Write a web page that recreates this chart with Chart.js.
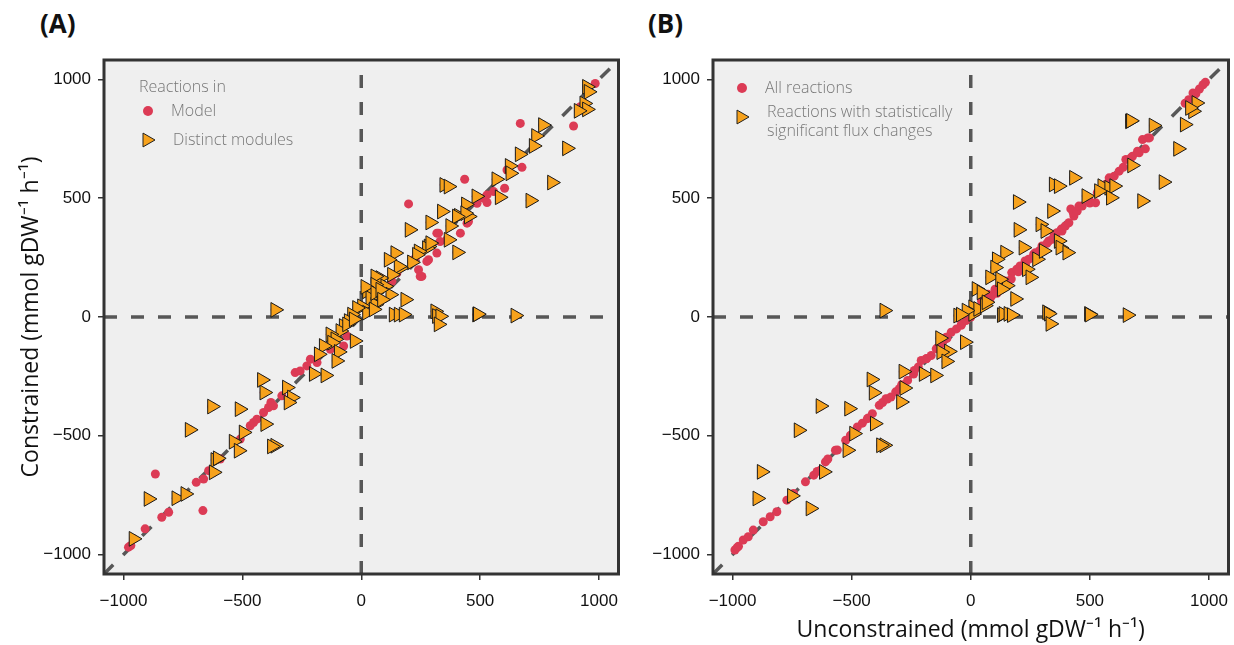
<!DOCTYPE html>
<html><head><meta charset="utf-8">
<script src="https://cdn.jsdelivr.net/npm/chart.js@4.4.1/dist/chart.umd.min.js"></script>
<style>
html,body{margin:0;padding:0;background:#fff;}
body{width:1234px;height:645px;overflow:hidden;position:relative;}
.panel{position:absolute;top:0;}
.lab{position:absolute;top:5px;font:700 26px 'Open Sans',sans-serif;color:#111;}
</style></head><body>
<div class="lab" style="left:40px">(A)</div>
<div class="lab" style="left:648px">(B)</div>
<canvas id="ca" class="panel" style="left:0" width="628" height="645"></canvas>
<canvas id="cb" class="panel" style="left:620px" width="618" height="645"></canvas>
<script>
// ---------- data ----------
const tickValues = [-1000, -500, 0, 500, 1000];
const axisMin = -1082, axisMax = 1082;
const yTitle = 'Constrained (mmol gDW\u207B\u00B9 h\u207B\u00B9)';
const xTitle = 'Unconstrained (mmol gDW\u207B\u00B9 h\u207B\u00B9)';
const legendA = {title: 'Reactions in', dot: 'Model', tri: ['Distinct modules']};
const legendB = {title: null, dot: 'All reactions', tri: ['Reactions with statistically', 'significant flux changes']};

// Panel A: reactions in distinct modules (triangles)
const aTri = [[949,969],[956,948],[938,899],[949,874],[914,868],[764,808],[735,762],[725,720],[865,710],[666,685],[624,636],[627,605],[568,580],[802,566],[349,556],[367,549],[582,504],[711,490],[484,508],[339,444],[440,474],[410,426],[452,423],[437,437],[402,423],[290,398],[203,367],[374,383],[367,325],[283,297],[403,272],[276,290],[290,311],[241,276],[234,262],[213,230],[164,206],[157,213],[143,269],[115,241],[129,178],[80,164],[59,171],[101,129],[59,136],[24,108],[38,80],[17,127],[122,94],[185,73],[59,52],[59,101],[80,115],[3,45],[24,18],[52,32],[87,73],[-18,38],[-39,10],[-53,-17],[-74,-38],[-88,-59],[-130,-73],[-109,-94],[-123,-108],[-28,-101],[-60,-31],[-32,-10],[-158,-122],[-95,-147],[-179,-157],[-105,-185],[-200,-240],[-151,-246],[136,10],[157,10],[178,10],[311,24],[318,4],[332,3],[325,-31],[487,10],[490,12],[648,6],[-362,30],[-418,-265],[-408,-318],[-628,-377],[-512,-388],[-722,-475],[-495,-486],[-537,-525],[-516,-563],[-404,-451],[-362,-542],[-376,-545],[-614,-602],[-621,-654],[-604,-595],[-895,-766],[-778,-763],[-740,-745],[-958,-934],[-313,-297],[-292,-339],[-306,-360]];
// Panel A: other reactions in model (dots)
const aRed = [[984,983],[921,885],[893,804],[669,815],[676,630],[613,619],[603,542],[557,528],[529,514],[515,500],[529,482],[487,479],[435,580],[445,395],[451,402],[417,353],[360,325],[325,353],[318,353],[332,318],[318,269],[283,241],[276,234],[227,248],[255,171],[248,171],[241,199],[199,476],[150,185],[129,150],[-866,-661],[-666,-815],[-694,-696],[-839,-843],[-810,-822],[-909,-892],[-979,-969],[-969,-962],[-663,-682],[-642,-647],[-593,-598],[-509,-514],[-467,-458],[-453,-444],[-439,-430],[-411,-402],[-390,-381],[-380,-360],[-369,-374],[-334,-332],[-278,-234],[-257,-227],[-229,-206],[-214,-178],[-186,-192],[-130,-136],[-74,-122],[-60,-80]];
// Panel B: reactions with significant flux changes (triangles)
const bTri = [[947,901],[933,866],[920,880],[668,824],[672,826],[767,806],[898,810],[870,708],[677,638],[809,568],[719,488],[433,586],[348,558],[369,551],[485,509],[552,551],[581,544],[602,551],[588,502],[538,530],[197,484],[341,446],[200,367],[292,390],[313,362],[369,320],[376,292],[405,271],[221,292],[278,243],[306,278],[235,201],[250,167],[144,271],[109,243],[102,208],[81,167],[151,132],[24,118],[45,104],[186,76],[10,41],[123,159],[130,117],[-53,6],[10,13],[31,34],[59,48],[66,62],[-18,27],[-42,10],[-129,-89],[-92,-145],[-124,-148],[-103,-187],[-25,-106],[-283,-230],[-198,-240],[-150,-246],[130,8],[137,13],[158,13],[172,8],[320,20],[327,14],[334,-29],[496,13],[499,10],[658,8],[-363,27],[-417,-263],[-408,-319],[-631,-375],[-511,-386],[-723,-477],[-490,-491],[-518,-561],[-403,-449],[-363,-540],[-377,-540],[-279,-299],[-293,-358],[-617,-652],[-878,-652],[-896,-764],[-751,-753],[-673,-806]];
// Panel B: all reactions (dots)
const bRed = [[-990,-981],[-982,-972],[-975,-965],[-955,-939],[-934,-925],[-913,-897],[-871,-862],[-842,-841],[-814,-820],[-772,-771],[-744,-743],[-694,-694],[-659,-666],[-645,-650],[-631,-645],[-610,-610],[-600,-598],[-568,-561],[-560,-560],[-525,-519],[-504,-498],[-505,-500],[-476,-463],[-455,-447],[-434,-428],[-430,-425],[-413,-407],[-384,-372],[-370,-360],[-356,-344],[-350,-345],[-335,-337],[-315,-315],[-300,-302],[-290,-285],[-265,-267],[-240,-240],[-237,-225],[-220,-210],[-208,-183],[-187,-176],[-185,-175],[-166,-162],[-145,-134],[-140,-130],[-120,-112],[-103,-85],[-100,-90],[-82,-64],[-60,-50],[-40,-35],[-39,-30],[-20,-15],[0,0],[17,40],[25,20],[31,33],[45,68],[50,45],[59,61],[73,96],[80,75],[88,89],[102,117],[110,100],[116,117],[137,152],[140,130],[144,152],[172,187],[170,160],[193,201],[207,215],[200,190],[228,236],[243,243],[230,220],[264,264],[271,271],[260,250],[290,280],[299,299],[327,320],[320,310],[341,327],[362,355],[350,345],[380,370],[383,362],[397,383],[412,397],[433,425],[430,440],[420,455],[447,446],[454,467],[468,467],[496,495],[500,480],[524,481],[531,523],[567,558],[570,560],[581,586],[602,593],[623,614],[640,630],[651,663],[672,670],[679,677],[700,698],[707,691],[721,747],[733,708],[743,754],[750,754],[900,900],[915,915],[933,943],[945,940],[960,960],[975,978],[985,988]];

// ---------- styles ----------
const RED = '#dc3b55', ORANGE = '#f7a21c', LINE = '#575757', FRAME = '#333333', BG = '#efefef';
const pts = arr => arr.map(p => ({x: p[0], y: p[1]}));
const fmt = v => v < 0 ? '\u2212' + Math.abs(v) : String(v);

function refLines() {
  const base = {showLine: true, pointRadius: 0, borderColor: LINE, borderWidth: 3.5, borderDash: [13, 14], order: 3, clip: 0, tension: 0};
  return [
    Object.assign({data: [{x: axisMin, y: axisMin}, {x: axisMax, y: axisMax}]}, base),
    Object.assign({data: [{x: axisMin, y: 0}, {x: axisMax, y: 0}]}, base),
    Object.assign({data: [{x: 0, y: axisMin}, {x: 0, y: axisMax}]}, base)
  ];
}

function drawTri(ctx, x, y, r) {
  ctx.beginPath();
  ctx.moveTo(x + r, y);
  ctx.lineTo(x - r / 2, y - r * Math.sqrt(3) / 2);
  ctx.lineTo(x - r / 2, y + r * Math.sqrt(3) / 2);
  ctx.closePath();
  ctx.fillStyle = ORANGE; ctx.fill();
  ctx.lineWidth = 1; ctx.strokeStyle = '#222'; ctx.stroke();
}

function framePlugin(leg) {
  return {
    id: 'frame',
    beforeDatasetsDraw(chart) {
      const {ctx, chartArea: a} = chart;
      ctx.save(); ctx.fillStyle = BG; ctx.fillRect(a.left, a.top, a.width, a.height); ctx.restore();
    },
    afterDatasetsDraw(chart) {
      const {ctx, chartArea: a} = chart;
      ctx.save();
      ctx.lineWidth = 3; ctx.strokeStyle = FRAME;
      ctx.strokeRect(a.left, a.top, a.width, a.height);
      // legend
      const L = a.left + leg.dx;
      let y = a.top + leg.dy;
      ctx.font = '300 16px "Open Sans"';
      ctx.fillStyle = '#777';
      ctx.textBaseline = 'middle'; ctx.textAlign = 'left';
      if (leg.title) { ctx.fillText(leg.title, L - 9, y); y += 24; }
      ctx.beginPath(); ctx.arc(L, y, 5, 0, Math.PI * 2); ctx.fillStyle = RED; ctx.fill();
      ctx.fillStyle = '#777'; ctx.fillText(leg.dot, L + 23, y);
      y += leg.tri.length > 1 ? 24 : 29;
      drawTri(ctx, L - 1, y + (leg.tri.length > 1 ? 5 : 0), 8);
      ctx.fillStyle = '#777';
      leg.tri.forEach((t, i) => ctx.fillText(t, L + 25, y + i * 19));
      ctx.restore();
    }
  };
}

function makeChart(id, tri, red, o) {
  const tickFont = {family: '"Liberation Sans"', size: 17};
  return new Chart(document.getElementById(id), {
    type: 'scatter',
    data: {datasets: refLines().concat([
      {data: pts(red.concat(tri)), backgroundColor: RED, borderWidth: 0, pointRadius: 4.5, order: 2},
      {data: pts(tri), pointStyle: 'triangle', pointRotation: 90, backgroundColor: ORANGE, borderColor: '#1a1a1a', borderWidth: 1, pointRadius: 8.5, order: 1}
    ])},
    options: {
      responsive: false, animation: false, devicePixelRatio: 1,
      layout: {padding: {top: 60, right: o.padRight, left: 0, bottom: 0}},
      plugins: {legend: {display: false}, tooltip: {enabled: false}},
      scales: {
        x: {type: 'linear', min: axisMin, max: axisMax,
          afterBuildTicks: s => { s.ticks = tickValues.map(v => ({value: v})); },
          afterFit: s => { s.height = 71; s.paddingLeft = 0; s.paddingRight = 0; },
          ticks: {callback: fmt, font: tickFont, color: '#111', padding: 11, maxRotation: 0, autoSkip: false},
          grid: {drawOnChartArea: false, drawTicks: true, tickLength: 6, color: FRAME, lineWidth: 1.5},
          border: {display: false},
          title: {display: !!o.xTitle, text: o.xTitle || '', font: {family: '"Open Sans"', size: 23}, color: '#111', padding: {top: 0, bottom: 1}}
        },
        y: {type: 'linear', min: axisMin, max: axisMax,
          afterBuildTicks: s => { s.ticks = tickValues.map(v => ({value: v})); },
          afterFit: s => { s.width = o.yWidth; s.paddingTop = 0; s.paddingBottom = 0; },
          ticks: {callback: fmt, font: tickFont, color: '#111', padding: 7, autoSkip: false},
          grid: {drawOnChartArea: false, drawTicks: true, tickLength: 6, color: FRAME, lineWidth: 1.5},
          border: {display: false},
          title: {display: !!o.yTitle, text: o.yTitle || '', font: {family: '"Open Sans"', size: 23}, color: '#111', padding: {top: 18, bottom: 0}}
        }
      }
    },
    plugins: [framePlugin(o.legend)]
  });
}

makeChart('ca', aTri, aRed, {padRight: 2, yWidth: 104, yTitle: yTitle, xTitle: null,
  legend: Object.assign({dx: 44, dy: 27}, legendA)});
makeChart('cb', bTri, bRed, {padRight: 7, yWidth: 93, yTitle: null, xTitle: xTitle,
  legend: Object.assign({dx: 29, dy: 28}, legendB)});
</script>
</body></html>
